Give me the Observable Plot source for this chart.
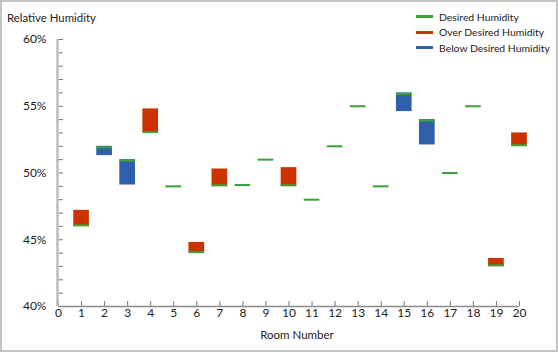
<!DOCTYPE html>
<html><head><meta charset="utf-8">
<script src="https://cdn.jsdelivr.net/npm/d3@7"></script>
<script src="https://cdn.jsdelivr.net/npm/@observablehq/plot@0.6"></script>
<style>
body{margin:0;background:#fff;font-family:Lato,sans-serif}
#wrap{position:relative;width:558px;height:352px}
#frame{position:absolute;left:0;top:0;width:558px;height:352px;box-sizing:border-box;border:2px solid #c4c4c4;pointer-events:none}
#title{position:absolute;left:7px;top:10px;font-size:11.4px;color:#222;line-height:16px}
#legend{position:absolute;left:416px;top:9px;font-size:10.4px;color:#222}
.item{display:flex;align-items:center;height:15.6px}
.sw{width:17px;height:3px;margin-right:6px}
</style></head>
<body>
<div id="wrap">
<div id="chart"></div>
<div id="title">Relative Humidity</div>
<div id="legend"></div>
<div id="frame"></div>
</div>
<script>
const rooms = [1,2,3,4,5,6,7,8,9,10,11,12,13,14,15,16,17,18,19,20];
const desired = [46,52,51,53,49,44,49,49.1,51,49,48,52,55,49,56,54,50,55,43,52];
const actual = [47.2,51.3,49.1,54.8,49,44.8,50.3,49.1,51,50.4,48,52,55,49,54.6,52.1,50,55,43.6,53];
const xTicks = [0,1,2,3,4,5,6,7,8,9,10,11,12,13,14,15,16,17,18,19,20];
const yTicks = [40,41,42,43,44,45,46,47,48,49,50,51,52,53,54,55,56,57,58,59,60];
const yLabelTicks = [40,45,50,55,60];
const seriesNames = ["Desired Humidity","Over Desired Humidity","Below Desired Humidity"];
const colors = ["#3ca236","#cc3300","#2f5fab"];

const data = rooms.map((r,i)=>({room:r, desired:desired[i], actual:actual[i]}));
const over = data.filter(d=>d.actual>d.desired);
const below = data.filter(d=>d.actual<d.desired);
const equal = data.filter(d=>d.actual===d.desired);
const hw = 0.34;
const gx = {x1:d=>d.room-hw, x2:d=>d.room+hw, y:"desired", stroke:colors[0], strokeWidth:2};

const chart = Plot.plot({
  width:558, height:352,
  marginLeft:58, marginRight:39, marginTop:39, marginBottom:46,
  style:{fontFamily:"Lato, sans-serif", fontSize:"12px", color:"#222", background:"transparent"},
  x:{domain:[0,20]},
  y:{domain:[40,60]},
  marks:[
    Plot.rect([...over, ...below], {x1:d=>d.room-hw, x2:d=>d.room+hw, y1:"desired", y2:"actual",
      fill:d=>d.actual>d.desired?colors[1]:colors[2]}),
    Plot.ruleY(over, {...gx, dy:-1}),
    Plot.ruleY(below, {...gx, dy:1}),
    Plot.ruleY(equal, gx),
    Plot.axisY({ticks:yTicks, tickSize:-5, tickFormat:()=>"", stroke:"#777", label:null}),
    Plot.axisY({ticks:yLabelTicks, tickSize:0, tickPadding:12, tickFormat:d=>d+"%", label:null, fontSize:12}),
    Plot.axisX({ticks:xTicks, tickSize:-5, tickPadding:7, stroke:"#777", tickFormat:d=>String(d), label:null, fontSize:12}),
    Plot.ruleX([0], {stroke:"#bdbdbd", strokeWidth:2.5, dx:-1}),
    Plot.ruleY([40], {stroke:"#8a8a8a", strokeWidth:1.5}),
    Plot.text(["Room Number"], {frameAnchor:"bottom", dy:32, dx:8, fontSize:11.5, fill:"#222"})
  ]
});
document.getElementById("chart").appendChild(chart);

const lg = document.getElementById("legend");
seriesNames.forEach((n,i)=>{
  const it = document.createElement("div"); it.className="item";
  const sw = document.createElement("span"); sw.className="sw"; sw.style.background=colors[i];
  const tx = document.createElement("span"); tx.textContent=n;
  it.appendChild(sw); it.appendChild(tx); lg.appendChild(it);
});
</script>
</body></html>
